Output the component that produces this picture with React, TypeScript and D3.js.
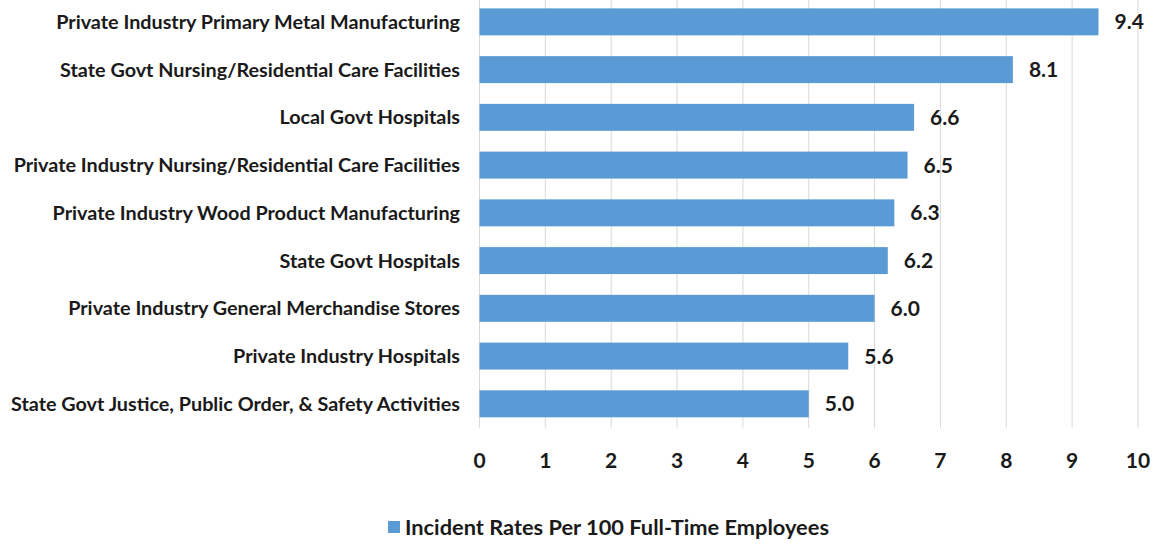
import { useEffect, useRef } from "react";
import * as d3 from "d3";

const categories = [
  "Private Industry Primary Metal Manufacturing",
  "State Govt Nursing/Residential Care Facilities",
  "Local Govt Hospitals",
  "Private Industry Nursing/Residential Care Facilities",
  "Private Industry Wood Product Manufacturing",
  "State Govt Hospitals",
  "Private Industry General Merchandise Stores",
  "Private Industry Hospitals",
  "State Govt Justice, Public Order, & Safety Activities",
];
const rates = [9.4, 8.1, 6.6, 6.5, 6.3, 6.2, 6.0, 5.6, 5.0];
const xTicks = [0, 1, 2, 3, 4, 5, 6, 7, 8, 9, 10];
const seriesName = "Incident Rates Per 100 Full-Time Employees";

const W = 1157;
const H = 544;
const FONT = "Lato, 'Open Sans', sans-serif";
const BAR = "#5B9BD5";

export default function App() {
  const svgRef = useRef<SVGSVGElement>(null);

  useEffect(() => {
    if (!svgRef.current) return;
    const svg = d3.select(svgRef.current);
    svg.selectAll("*").remove();

    const x = d3.scaleLinear().domain([0, 10]).range([479.5, 1138]);
    const y = d3
      .scaleBand<string>()
      .domain(categories)
      .range([-2, 427.7])
      .paddingInner(0.435)
      .paddingOuter(0.2175);

    // grid
    svg
      .append("g")
      .selectAll("line")
      .data(xTicks)
      .join("line")
      .attr("x1", (d) => x(d))
      .attr("x2", (d) => x(d))
      .attr("y1", 0)
      .attr("y2", 427.7)
      .attr("stroke", "#D9D9D9")
      .attr("stroke-width", 1);

    // bars
    svg
      .append("g")
      .selectAll("rect")
      .data(rates)
      .join("rect")
      .attr("x", x(0))
      .attr("y", (_, i) => y(categories[i])!)
      .attr("width", (d) => x(d) - x(0))
      .attr("height", y.bandwidth())
      .attr("fill", BAR);

    // value labels
    svg
      .append("g")
      .selectAll("text")
      .data(rates)
      .join("text")
      .attr("x", (d) => x(d) + 16)
      .attr("y", (_, i) => y(categories[i])! + y.bandwidth() / 2)
      .attr("dy", "0.36em")
      .attr("font-family", FONT)
      .attr("font-weight", 700)
      .attr("font-size", 21)
      .attr("fill", "#1a1a1a")
      .text((d) => d.toFixed(1));

    // category labels
    svg
      .append("g")
      .selectAll("text")
      .data(categories)
      .join("text")
      .attr("x", 460)
      .attr("y", (d) => y(d)! + y.bandwidth() / 2)
      .attr("dy", "0.36em")
      .attr("text-anchor", "end")
      .attr("font-family", FONT)
      .attr("font-weight", 700)
      .attr("font-size", 19.8)
      .attr("fill", "#1a1a1a")
      .text((d) => d);

    // x tick labels
    svg
      .append("g")
      .selectAll("text")
      .data(xTicks)
      .join("text")
      .attr("x", (d) => x(d))
      .attr("y", 460)
      .attr("dy", "0.36em")
      .attr("text-anchor", "middle")
      .attr("font-family", FONT)
      .attr("font-weight", 700)
      .attr("font-size", 21)
      .attr("fill", "#1a1a1a")
      .text((d) => String(d));

    // legend
    const lg = svg.append("g");
    lg.append("rect")
      .attr("x", 388)
      .attr("y", 521)
      .attr("width", 12)
      .attr("height", 12)
      .attr("fill", BAR);
    lg.append("text")
      .attr("x", 405)
      .attr("y", 527)
      .attr("dy", "0.36em")
      .attr("font-family", FONT)
      .attr("font-weight", 700)
      .attr("font-size", 21.8)
      .attr("fill", "#1a1a1a")
      .text(seriesName);
  }, []);

  return (
    <svg
      ref={svgRef}
      width={W}
      height={H}
      style={{ display: "block", position: "absolute", left: 0, top: 0, background: "#fff" }}
    />
  );
}
